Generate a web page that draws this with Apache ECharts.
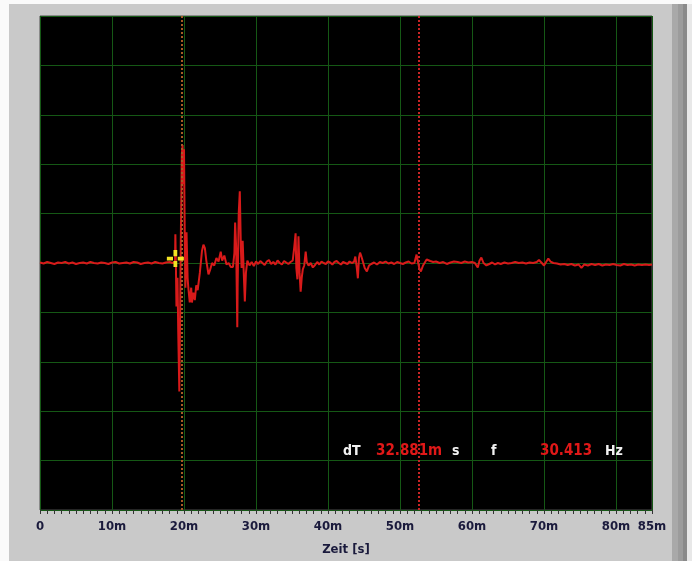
<!DOCTYPE html>
<html>
<head>
<meta charset="utf-8">
<script src="https://cdn.jsdelivr.net/npm/echarts@6/dist/echarts.min.js"></script>
<style>
  html, body { margin: 0; padding: 0; background: #fff; }
  #scope { width: 692px; height: 561px; }
</style>
</head>
<body>
<div id="scope"></div>
<script>
// Zeitachse in ms, Amplitude in Skalenteilen (keine Beschriftung an der Y-Achse)
var xTicks = [0, 10, 20, 30, 40, 50, 60, 70, 80, 85]
var yRange = [-5, 5]

// Cursor-Positionen (ms) und Anzeige
var cursorA = 19.7
var cursorB = 52.58
var cursorPoint = [18.8, 0.09]
var readout = { dT: '32.881m', f: '30.413' }

// Messsignal [t (ms), Wert]
var trace = [
  [0, 0.01], [0.5, -0.01], [1, 0.02], [1.5, 0], [2, -0.02], [2.5, 0.01], [3, 0], [3.5, 0.02],
  [4, -0.01], [4.5, 0.01], [5, -0.02], [5.5, 0], [6, 0.01], [6.5, -0.01], [7, 0.02], [7.5, 0],
  [8, -0.01], [8.5, 0.01], [9, 0], [9.5, -0.02], [10, 0.01], [10.5, 0.02], [11, -0.01], [11.5, 0],
  [12, 0.01], [12.5, -0.01], [13, 0.02], [13.5, 0.01], [14, -0.02], [14.5, 0], [15, 0.01],
  [15.5, -0.01], [16, 0.02], [16.5, 0], [17, -0.01], [17.5, 0.01], [18, 0.02], [18.4, 0],
  [18.75, 0.02], [18.8, 0.58], [18.88, -0.1], [18.95, -0.88], [19.1, -0.3], [19.2, -1.4],
  [19.35, -2.6], [19.45, -1.2], [19.55, 0.4], [19.7, 2.2], [19.8, 2.39], [19.9, 1.6], [20.0, 2.3],
  [20.1, 0.6], [20.2, -0.5], [20.35, 0.62], [20.5, -0.3], [20.6, -0.5], [20.8, -0.8], [21.0, -0.5],
  [21.1, -0.8], [21.3, -0.6], [21.5, -0.75], [21.7, -0.45], [21.9, -0.55], [22.2, -0.2],
  [22.5, 0.25], [22.7, 0.37], [22.9, 0.3], [23.1, 0.05], [23.4, -0.23], [23.6, -0.15], [23.9, 0.0],
  [24.2, -0.05], [24.5, 0.1], [24.8, 0.03], [25.1, 0.23], [25.3, 0.05], [25.6, 0.15], [25.9, -0.03],
  [26.2, 0.0], [26.5, -0.08], [26.8, -0.08],
  [27.0, 0.2], [27.1, 0.82], [27.25, 0.3], [27.4, -1.3], [27.45, -0.5], [27.6, 1.0], [27.75, 1.45],
  [27.9, 0.3], [28.0, -0.1], [28.15, 0.45], [28.3, -0.2], [28.45, -0.78], [28.6, -0.2], [28.8, 0.05],
  [29.1, -0.05], [29.4, 0.02], [29.7, -0.06], [30, 0.03], [30.3, -0.02], [30.6, 0.04], [30.9, 0],
  [31.2, -0.04], [31.5, 0.03], [31.8, 0.06], [32.1, -0.02], [32.4, 0.02], [32.7, -0.03], [33, 0.05],
  [33.3, 0], [33.6, -0.03], [33.9, 0.04], [34.2, 0.01], [34.5, -0.02], [34.8, 0.02], [35.1, 0.05],
  [35.3, 0.3], [35.5, 0.6], [35.6, -0.1], [35.75, -0.33], [35.9, 0.54], [36.05, -0.2], [36.2, -0.58],
  [36.35, -0.3], [36.5, -0.13], [36.7, -0.05], [36.9, 0.23], [37.05, 0.02], [37.3, -0.05],
  [37.6, 0.0], [37.9, -0.09], [38.2, -0.04], [38.5, 0.02], [38.8, -0.03], [39.1, 0.03], [39.4, 0.0],
  [39.7, -0.02], [40.0, 0.03], [40.3, 0.01], [40.6, -0.03], [40.9, 0.02], [41.2, 0.04], [41.5, 0.0],
  [41.8, -0.03], [42.1, 0.02], [42.4, 0.0], [42.7, -0.02], [43.0, 0.03], [43.3, 0.0], [43.6, 0.02],
  [43.8, 0.13], [44.0, -0.1], [44.15, -0.31], [44.3, 0.1], [44.45, 0.21], [44.6, 0.15], [44.8, 0.05],
  [45.1, -0.1], [45.4, -0.17], [45.7, -0.05], [46.0, -0.02], [46.4, 0.01], [46.8, -0.03], [47.2, 0.02],
  [47.6, 0.0], [48.0, 0.03], [48.4, -0.01], [48.8, 0.01], [49.2, -0.02], [49.6, 0.02], [50.0, 0.0],
  [50.4, -0.02], [50.8, 0.01], [51.2, 0.03], [51.6, -0.01], [52.0, 0.0],
  [52.3, 0.17], [52.5, 0.02], [52.7, -0.12], [52.9, -0.17], [53.2, -0.05], [53.7, 0.07], [54.2, 0.04],
  [54.6, 0.02], [55.0, 0.03], [55.5, 0.0], [56.0, 0.02], [56.5, -0.02], [57.0, 0.01], [57.5, 0.03],
  [58.0, 0.02], [58.5, 0.0], [59.0, 0.03], [59.5, 0.01], [60.0, 0.02], [60.4, 0.0], [60.8, -0.09],
  [61.05, 0.05], [61.3, 0.11], [61.6, 0.0], [62.0, -0.05], [62.4, -0.02], [62.8, 0.01], [63.2, -0.03],
  [63.6, 0.0], [64.0, -0.02], [64.5, 0.01], [65.0, -0.01], [65.5, 0.0], [66.0, 0.02], [66.5, 0.0],
  [67.0, 0.01], [67.5, -0.01], [68.0, 0.01], [68.5, 0.0], [69.0, 0.02], [69.3, 0.06], [69.7, 0.0],
  [70.0, -0.05], [70.3, 0.02], [70.6, 0.09], [70.9, 0.03], [71.3, 0.0], [71.8, -0.01], [72.3, -0.03],
  [72.8, -0.02], [73.3, -0.04], [73.8, -0.02], [74.3, -0.05], [74.8, -0.03], [75.2, -0.1], [75.6, -0.03],
  [76.1, -0.05], [76.6, -0.02], [77.1, -0.04], [77.6, -0.02], [78.1, -0.05], [78.6, -0.03], [79.1, -0.04],
  [79.6, -0.02], [80.1, -0.04], [80.6, -0.05], [81.1, -0.02], [81.6, -0.04], [82.1, -0.03], [82.6, -0.05],
  [83.1, -0.03], [83.6, -0.04], [84.1, -0.03], [84.6, -0.04], [85, -0.03]
]

var gridGreen = '#155815'
var labelFont = "'Liberation Sans Narrow', 'DejaVu Sans Condensed', 'Liberation Sans', sans-serif"

var chart = echarts.init(document.getElementById('scope'))

var option = {
  animation: false,
  backgroundColor: '#c9c9c9',
  grid: {
    left: 40,
    top: 16,
    width: 612,
    height: 495,
    show: true,
    backgroundColor: '#000',
    borderColor: '#4a4a4a',
    borderWidth: 1
  },
  xAxis: [
    {
      type: 'value',
      min: xTicks[0],
      max: xTicks[xTicks.length - 1],
      interval: 10,
      position: 'bottom',
      name: 'Zeit [s]',
      nameLocation: 'middle',
      nameGap: 33,
      nameTextStyle: { color: '#1a1a3c', fontWeight: 'bold', fontSize: 13, fontFamily: labelFont },
      axisLine: { show: false },
      axisTick: { show: true, length: 7, lineStyle: { color: '#333' } },
      axisLabel: {
        color: '#1a1a3c',
        fontWeight: 'bold',
        fontSize: 13,
        fontFamily: labelFont,
        margin: 10,
        formatter: function (v) { return v === 0 ? '0' : v + 'm' }
      },
      splitLine: { show: true, lineStyle: { color: gridGreen, width: 1 } }
    },
    {
      // Feinteilung 1 ms
      type: 'value',
      min: xTicks[0],
      max: xTicks[xTicks.length - 1],
      interval: 1,
      position: 'bottom',
      axisLine: { show: false },
      axisTick: { show: true, length: 4, lineStyle: { color: '#333' } },
      axisLabel: { show: false },
      splitLine: { show: false }
    }
  ],
  yAxis: {
    type: 'value',
    min: yRange[0],
    max: yRange[1],
    interval: 1,
    axisLine: { show: false },
    axisTick: { show: false },
    axisLabel: { show: false },
    splitLine: { show: true, lineStyle: { color: gridGreen, width: 1 } }
  },
  series: [
    {
      type: 'line',
      data: trace,
      xAxisIndex: 0,
      showSymbol: false,
      symbol: 'none',
      lineStyle: { color: '#d81a1a', width: 2 },
      z: 3,
      markLine: {
        silent: true,
        symbol: 'none',
        label: { show: false },
        data: [
          { xAxis: cursorA, lineStyle: { color: '#a65a26', width: 2, type: [2, 2] } },
          { xAxis: cursorB, lineStyle: { color: '#c82424', width: 2, type: [2, 2] } }
        ]
      },
      markPoint: {
        silent: true,
        symbol: 'path://M-2,-9L2,-9L2,-2.5L-2,-2.5Z M-2,2.5L2,2.5L2,9L-2,9Z M-9,-2L-2.5,-2L-2.5,2L-9,2Z M2.5,-2L9,-2L9,2L2.5,2Z',
        symbolSize: 17,
        itemStyle: { color: '#f2e224' },
        label: { show: false },
        data: [{ coord: cursorPoint }]
      }
    }
  ],
  graphic: [
    // Rahmen
    { type: 'rect', shape: { x: 0, y: 0, width: 692, height: 4 }, style: { fill: '#fafafa' }, silent: true },
    { type: 'rect', shape: { x: 0, y: 0, width: 9, height: 561 }, style: { fill: '#fafafa' }, silent: true },
    { type: 'rect', shape: { x: 672, y: 4, width: 6, height: 557 }, style: { fill: '#a9a9a9' }, silent: true },
    { type: 'rect', shape: { x: 678, y: 4, width: 5, height: 557 }, style: { fill: '#9c9c9c' }, silent: true },
    { type: 'rect', shape: { x: 683, y: 4, width: 4, height: 557 }, style: { fill: '#8a8a8a' }, silent: true },
    { type: 'rect', shape: { x: 687, y: 4, width: 5, height: 557 }, style: { fill: '#e8e8e8' }, silent: true },
    // Cursor-Anzeige
    { type: 'text', x: 343, y: 451, z: 100, style: { text: 'dT', fill: '#f2f2f2', font: 'bold 14px ' + labelFont, textVerticalAlign: 'middle' } },
    { type: 'text', x: 376, y: 451, z: 100, style: { text: readout.dT, fill: '#e01818', font: 'bold 15px ' + labelFont, textVerticalAlign: 'middle' } },
    { type: 'text', x: 452, y: 451, z: 100, style: { text: 's', fill: '#f2f2f2', font: 'bold 14px ' + labelFont, textVerticalAlign: 'middle' } },
    { type: 'text', x: 491, y: 451, z: 100, style: { text: 'f', fill: '#f2f2f2', font: 'bold 14px ' + labelFont, textVerticalAlign: 'middle' } },
    { type: 'text', x: 540, y: 451, z: 100, style: { text: readout.f, fill: '#e01818', font: 'bold 15px ' + labelFont, textVerticalAlign: 'middle' } },
    { type: 'text', x: 605, y: 451, z: 100, style: { text: 'Hz', fill: '#f2f2f2', font: 'bold 14px ' + labelFont, textVerticalAlign: 'middle' } }
  ]
}

chart.setOption(option, true)
</script>
</body>
</html>
